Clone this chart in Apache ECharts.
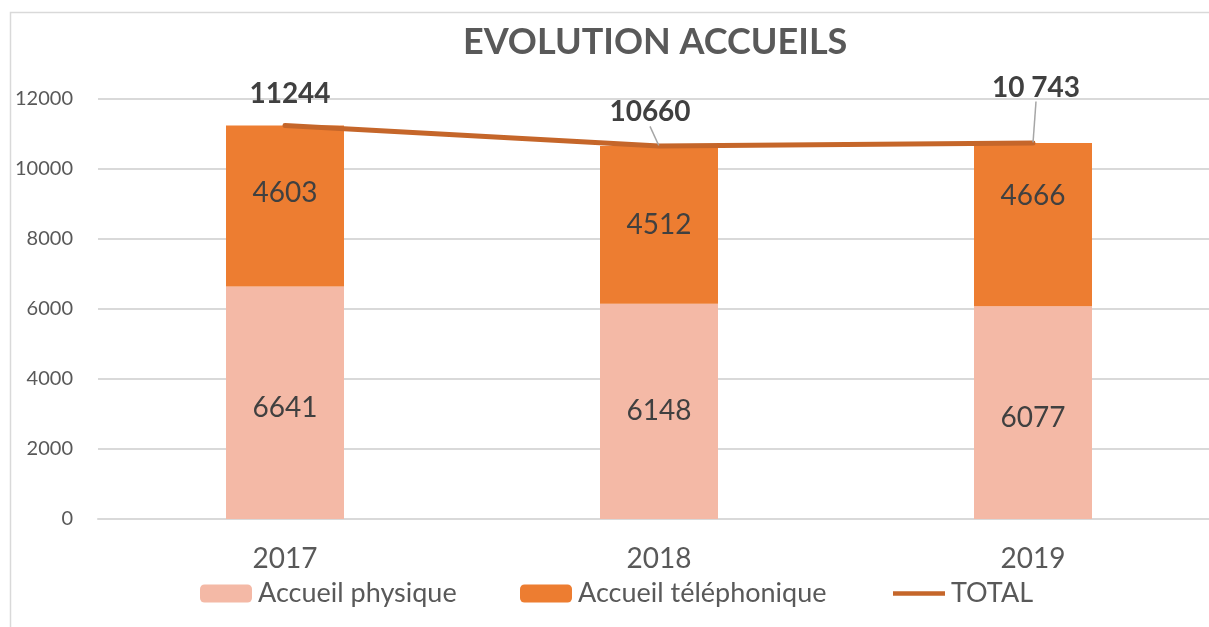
<!DOCTYPE html>
<html>
<head>
<meta charset="utf-8">
<script src="https://cdn.jsdelivr.net/npm/echarts@6/dist/echarts.min.js"></script>
<style>
  html, body { margin: 0; padding: 0; background: #fff; overflow: hidden; }
  #chart { width: 1230px; height: 627px; }
</style>
</head>
<body>
<div id="chart"></div>
<script>
// données
const years = ['2017', '2018', '2019']
const physique = [6641, 6148, 6077]
const telephonique = [4603, 4512, 4666]
const totals = [11244, 10660, 10743]
const totalLabels = ['11244', '10660', '10 743']

// décalages manuels des étiquettes (comme dans le graphique Excel)
const physOffsetY = [5, 0, 5]
const telOffsetY = [-13, 0, -29]
const totalDx = [5, -9, 3]
const totalDy = [-12, -14, -36]

const FONT = 'Lato, "Open Sans", sans-serif'
const chart = echarts.init(document.getElementById('chart'))

const legendBase = {
  top: 580,
  padding: 0,
  itemWidth: 52,
  itemHeight: 18,
  textStyle: { fontSize: 27, color: '#595959', fontFamily: FONT, padding: [0, 0, 0, 1] }
}

chart.setOption({
  animation: false,
  textStyle: { fontFamily: FONT },
  graphic: [{
    type: 'rect',
    shape: { x: 10.5, y: 12.5, width: 1400, height: 800 },
    style: { fill: 'none', stroke: '#D9D9D9', lineWidth: 1.5 },
    silent: true
  }],
  title: {
    text: 'EVOLUTION ACCUEILS',
    left: 463,
    top: 24,
    padding: 0,
    textStyle: { fontSize: 36, fontWeight: 'bold', color: '#595959', fontFamily: FONT }
  },
  legend: [
    Object.assign({}, legendBase, { left: 200, data: ['Accueil physique'] }),
    Object.assign({}, legendBase, { left: 520, data: ['Accueil téléphonique'] }),
    Object.assign({}, legendBase, {
      left: 893,
      symbolKeepAspect: true,
      data: [{ name: 'TOTAL', icon: 'path://M0,0 L57,0 L57,5 L0,5 Z' }]
    })
  ],
  grid: { left: 98, top: 99, width: 1122, height: 420, containLabel: false },
  xAxis: {
    type: 'category',
    data: years,
    axisLine: { lineStyle: { color: '#D9D9D9', width: 2 } },
    axisTick: { show: false },
    axisLabel: { fontSize: 28, color: '#595959', margin: 26 }
  },
  yAxis: {
    type: 'value',
    min: 0,
    max: 12000,
    interval: 2000,
    axisLine: { show: false },
    axisTick: { show: false },
    axisLabel: { fontSize: 20, color: '#595959', margin: 25, formatter: (v) => String(v) },
    splitLine: { lineStyle: { color: '#D9D9D9', width: 2 } }
  },
  series: [
    {
      name: 'Accueil physique',
      type: 'bar',
      stack: 'accueil',
      barWidth: 118,
      itemStyle: { color: '#F4B9A6' },
      label: { show: true, position: 'inside', fontSize: 28, color: '#404040' },
      data: physique.map((v, i) => ({ value: v, label: { offset: [0, physOffsetY[i]] } }))
    },
    {
      name: 'Accueil téléphonique',
      type: 'bar',
      stack: 'accueil',
      barWidth: 118,
      itemStyle: { color: '#ED7D31' },
      label: { show: true, position: 'inside', fontSize: 28, color: '#404040' },
      data: telephonique.map((v, i) => ({ value: v, label: { offset: [0, telOffsetY[i]] } }))
    },
    {
      name: 'TOTAL',
      type: 'line',
      z: 5,
      symbol: 'circle',
      symbolSize: 1,
      showSymbol: true,
      lineStyle: { color: '#C5662A', width: 5, cap: 'round' },
      itemStyle: { color: '#C5662A' },
      label: {
        show: true,
        position: 'top',
        fontSize: 28,
        fontWeight: 'bold',
        color: '#404040',
        formatter: (p) => totalLabels[p.dataIndex]
      },
      labelLine: { show: true, lineStyle: { color: '#A6A6A6', width: 1.5 } },
      labelLayout: (p) => ({ dx: totalDx[p.dataIndex], dy: totalDy[p.dataIndex] }),
      data: totals.map((v, i) => ({ value: v, labelLine: { show: i > 0 } }))
    }
  ]
})
</script>
</body>
</html>
